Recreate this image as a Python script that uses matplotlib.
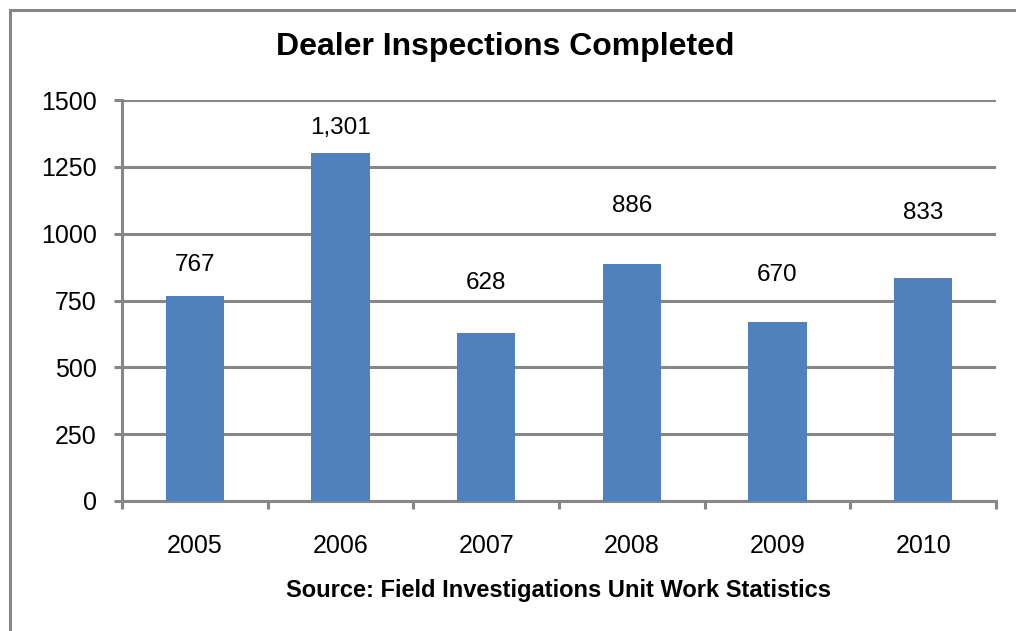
import numpy as np
import matplotlib.pyplot as plt
from matplotlib.patches import Rectangle

plt.rcParams['font.family'] = ['Liberation Sans', 'DejaVu Sans']

years = ['2005', '2006', '2007', '2008', '2009', '2010']
inspections = [767, 1301, 628, 886, 670, 833]
value_labels = ['767', '1,301', '628', '886', '670', '833']
# label offset above the bar top, in points (as placed in the original)
label_offsets = [22, 18, 36, 42, 34, 47]

grey = '#878787'
blue = '#4F81BD'

fig = plt.figure(figsize=(10.16, 6.31), dpi=100)
ax = fig.add_axes([122/1016, 130/631, 874/1016, 401/631])

x = np.arange(len(years))
ax.bar(x, inspections, width=0.4, color=blue, zorder=3)

for xi, v, lab, off in zip(x, inspections, value_labels, label_offsets):
    ax.annotate(lab, (xi, v), xytext=(0, off), textcoords='offset points',
                ha='center', va='center', fontsize=17.5)

ax.set_xlim(-0.5, len(years) - 0.5)
ax.set_ylim(0, 1500)
ax.set_yticks([0, 250, 500, 750, 1000, 1250, 1500])
ax.set_xticks(x)
ax.set_xticklabels(years, fontsize=18)
ax.set_xticks(np.arange(len(years) + 1) - 0.5, minor=True)
ax.tick_params(axis='y', labelsize=18, length=6, width=2.2, color=grey, pad=12)
ax.tick_params(axis='x', which='major', length=0, pad=24)
ax.tick_params(axis='x', which='minor', length=6, width=2.2, color=grey)

ax.grid(axis='y', color=grey, linewidth=2.2, zorder=0)
for s in ['top', 'right']:
    ax.spines[s].set_visible(False)
for s in ['left', 'bottom']:
    ax.spines[s].set_color(grey)
    ax.spines[s].set_linewidth(2.2)
ax.set_axisbelow(True)

fig.text(0.497, 1 - 47/631, 'Dealer Inspections Completed', ha='center', va='center',
         fontsize=23, fontweight='bold')
fig.text(558/1016, 1 - 590/631, 'Source: Field Investigations Unit Work Statistics',
         ha='center', va='center', fontsize=17, fontweight='bold')

fig.patches.append(Rectangle((10/1016, -0.1), 1.2, 1 - 10/631 + 0.1,
                             transform=fig.transFigure, fill=False,
                             edgecolor=grey, linewidth=2.2))

fig.savefig('out.png', dpi=100)
